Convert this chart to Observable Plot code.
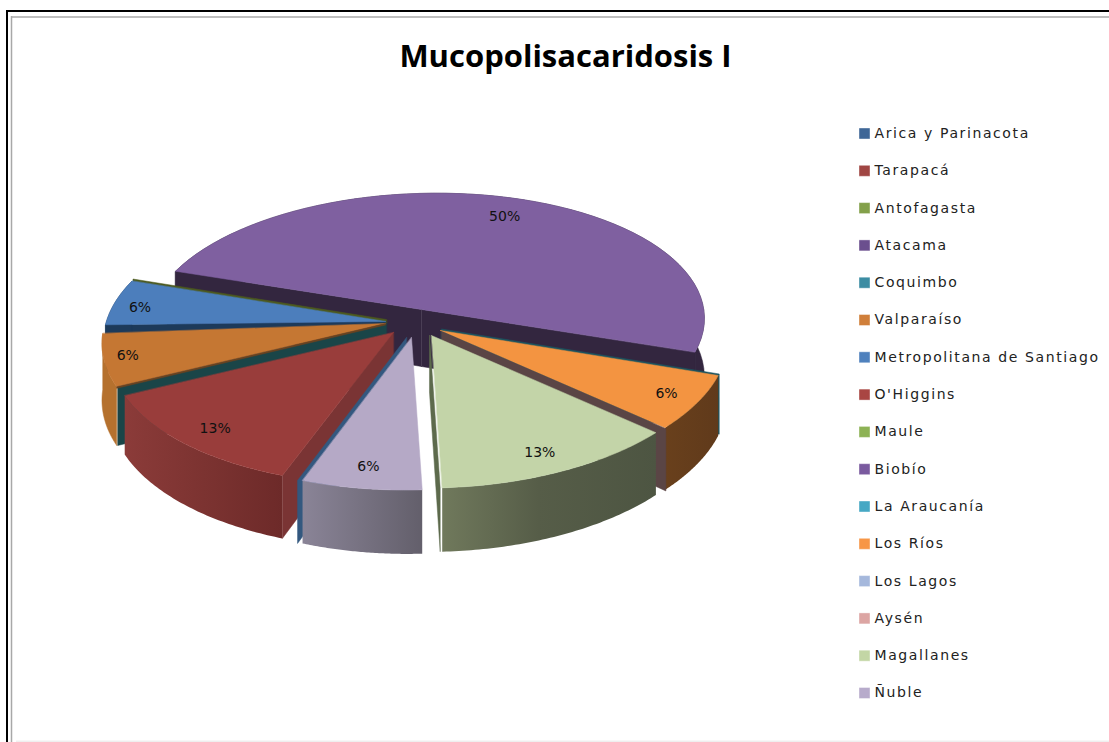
<!DOCTYPE html>
<html>
<head>
<meta charset="utf-8">
<script src="https://cdn.jsdelivr.net/npm/d3@7"></script>
<script src="https://cdn.jsdelivr.net/npm/@observablehq/plot@0.6"></script>
<style>
html,body{margin:0;padding:0;background:#fff;}
svg{display:block;}
</style>
</head>
<body>
<div id="chart"></div>
<script>
// ---- data
const chartTitle = "Mucopolisacaridosis I";
const regions = ["Arica y Parinacota","Tarapacá","Antofagasta","Atacama","Coquimbo","Valparaíso","Metropolitana de Santiago","O'Higgins","Maule","Biobío","La Araucanía","Los Ríos","Los Lagos","Aysén","Magallanes","Ñuble"];
const cases = [0,0,0,0,0,1,1,2,0,8,0,1,0,0,2,1];
const legendColors = ["#3f6797","#a04643","#83a04a","#6b4f8e","#3c8da3","#d07f3a","#4f81bd","#a94643","#8db255","#7a5a9f","#46a8c4","#f79646","#a5b8dc","#dca5a3","#c3d6a5","#b7abcb"];
// clockwise order in which the slices sit on the pie, from the left end of the largest slice
const pieOrder = ["Biobío","Los Ríos","Magallanes","Ñuble","O'Higgins","Valparaíso","Metropolitana de Santiago"];

// ---- styling of the 3D look (per slice): top face, wall fill, exploded apex, size, label distance
const look = {
  "Biobío":{top:"#7f60a0",wall:"#33263f",apex:[421,309],scale:[.985,.945],lab:.78,nudge:[14,-6],trim:0},
  "Los Ríos":{top:"#f39441",wall:"url(#gLR)",apex:[440,330],scale:[1,1],lab:.88,nudge:[0,0],trim:0},
  "Magallanes":{top:"#c3d4a8",wall:"url(#gMag)",apex:[431,335],scale:[1,1],lab:.85,nudge:[-2,2],trim:0},
  "Ñuble":{top:"#b5a9c6",wall:"url(#gNu)",apex:[411,337],scale:[1,1],lab:.85,nudge:[0,1],trim:0},
  "O'Higgins":{top:"#993d3b",wall:"url(#gOH)",apex:[393,332],scale:[1.02,1],lab:.86,nudge:[2,1],trim:0},
  "Valparaíso":{top:"#c57733",wall:"#b5712e",apex:[385,323],scale:[1.02,1],lab:.93,nudge:[4,-2],trim:0},
  "Metropolitana de Santiago":{top:"#4c7ebc",wall:"#1d3a5a",apex:[385,321],scale:[1.015,1],lab:.92,nudge:[5,1],trim:.05}
};

// ---- pie geometry
const W = 1109, H = 742, wallH = 57;
const A = [263,42.6], B = [-98.6,129.4], q = -0.053, r = -0.095;
const den = p => 1 + q*Math.cos(p) + r*Math.sin(p);
const vec = p => [(A[0]*Math.cos(p)+B[0]*Math.sin(p))/den(p),(A[1]*Math.cos(p)+B[1]*Math.sin(p))/den(p)];
const rim = (ap,p,s) => { const v = vec(p); return [ap[0]+s[0]*v[0], ap[1]+s[1]*v[1]]; };
const drop = (pt,p,h=wallH) => [pt[0], pt[1]+h/den(p)];

const arcs = d3.pie().sort(null).startAngle(Math.PI).endAngle(3*Math.PI)
  (pieOrder.map(n => cases[regions.indexOf(n)]));
const slices = {};
pieOrder.forEach((n,i)=>{ slices[n] = {name:n,a0:arcs[i].startAngle,a1:arcs[i].endAngle,value:arcs[i].value}; });
const total = d3.sum(cases);

const marks = [];
const poly = (pts,fill) => marks.push(Plot.line(pts,{x:d=>d[0],y:d=>d[1],fill,stroke:fill.startsWith("url")?"none":fill,strokeWidth:.5,curve:"linear-closed"}));
const arcAngles = (a0,a1) => d3.range(0,61).map(i=>a0+(a1-a0)*i/60);
const face = (n) => { const s=slices[n], L=look[n];
  poly([L.apex,...arcAngles(s.a0+L.trim,s.a1).map(p=>rim(L.apex,p,L.scale))],L.top); };
const outerWall = (n) => { const s=slices[n], L=look[n], as=arcAngles(s.a0+L.trim,s.a1);
  poly([...as.map(p=>rim(L.apex,p,L.scale)),...as.slice().reverse().map(p=>drop(rim(L.apex,p,L.scale),p))],L.wall); };
const radialWall = (ap,p,sc,fill,h=wallH) => { const e=rim(ap,p,sc);
  poly([ap,e,drop(e,p,h),[ap[0],ap[1]+h]],fill); };
const sliver = (n,end,dx,dy,fill,h=wallH) => { const s=slices[n], L=look[n];
  radialWall([L.apex[0]+dx,L.apex[1]+dy], end?s.a1:s.a0+L.trim, L.scale, fill, h); };

// white card with its double frame
marks.push(Plot.ruleY([10.5],{x1:6,x2:W,stroke:"#000",strokeWidth:2}));
marks.push(Plot.ruleX([6.5],{y1:10,y2:H,stroke:"#000",strokeWidth:2}));
marks.push(Plot.ruleY([16.5],{x1:11,x2:W,stroke:"#a8a8a8",strokeWidth:1.5}));
marks.push(Plot.ruleX([11],{y1:16,y2:H,stroke:"#a8a8a8",strokeWidth:1.5}));
marks.push(Plot.ruleY([741],{x1:16,x2:W,stroke:"#efefef",strokeWidth:2}));

// gradient definitions used by the front walls
marks.push(() => {
  const defs = d3.create("svg:defs");
  const grad = (id,stops) => { const g=defs.append("linearGradient").attr("id",id);
    stops.forEach(([o,c])=>g.append("stop").attr("offset",o).attr("stop-color",c)); };
  grad("gOH",[[0,"#8b3b39"],[.5,"#7c3331"],[1,"#6d2a29"]]);
  grad("gMag",[[0,"#70795c"],[.45,"#565d48"],[1,"#4d5542"]]);
  grad("gNu",[[0,"#8a8497"],[1,"#635f6b"]]);
  grad("gLR",[[0,"#69401c"],[1,"#603a1b"]]);
  return defs.node();
});

// painter's order, back to front
const pur="Biobío", lr="Los Ríos", mag="Magallanes", nu="Ñuble", oh="O'Higgins", va="Valparaíso", me="Metropolitana de Santiago";
outerWall(pur);
radialWall(look[pur].apex,slices[pur].a0,look[pur].scale,look[pur].wall);
radialWall(look[pur].apex,slices[pur].a1,look[pur].scale,look[pur].wall);
face(pur);
sliver(me,true,1,-2,"#4d5a1f",4);
sliver(me,false,0,0,"#1d3a5a",14);
outerWall(me); face(me);
sliver(va,false,1,0,"#1a4548");
outerWall(va); face(va);
sliver(va,false,0,0,"#6b4320",1.5);
outerWall(oh); radialWall(look[oh].apex,slices[oh].a0,look[oh].scale,"#7a3434"); face(oh);
sliver(nu,true,-5,0,"#33587f");
sliver(lr,false,1,-1.5,"#1d5560");
outerWall(lr); face(lr);
sliver(mag,false,10,-4,"#5a4545");
sliver(mag,true,-2,0,"#5d6a4c");
outerWall(mag); face(mag);
outerWall(nu); face(nu);

// data labels
const labels = pieOrder.map(n => { const s=slices[n], m=(s.a0+s.a1)/2, L=look[n], v=rim([0,0],m,L.scale);
  return {x:L.apex[0]+L.lab*v[0]+L.nudge[0], y:L.apex[1]+L.lab*v[1]+L.nudge[1], t:Math.round(s.value/total*100)+"%"}; });
marks.push(Plot.text(labels,{x:"x",y:"y",text:"t",fontFamily:"DejaVu Sans",fontSize:14,fill:"#111"}));

// legend
const legendRows = regions.map((name,i)=>({name,i,color:legendColors[i],y:133+37.3*i}));
marks.push(Plot.dot(legendRows,{x:()=>864,y:"y",symbol:"square",r:6.2,fill:"color",stroke:"#fff",strokeWidth:.4}));
marks.push(Plot.text(legendRows,{x:()=>874,y:"y",text:"name",textAnchor:"start",fontFamily:"DejaVu Sans",fontSize:14,fill:"#222"}));

// title
marks.push(Plot.text([chartTitle],{x:()=>565,y:()=>57,fontFamily:"Open Sans",fontWeight:"bold",fontSize:31,fill:"#000",text:d=>d}));

const plot = Plot.plot({
  width:W,height:H,margin:0,
  x:{domain:[0,W],range:[0,W],axis:null},
  y:{domain:[0,H],range:[0,H],axis:null},
  marks
});
d3.select(plot).selectAll("text").filter(function(){return regions.includes(this.textContent);}).style("letter-spacing","1.6px");
document.getElementById("chart").appendChild(plot);
</script>
</body>
</html>
